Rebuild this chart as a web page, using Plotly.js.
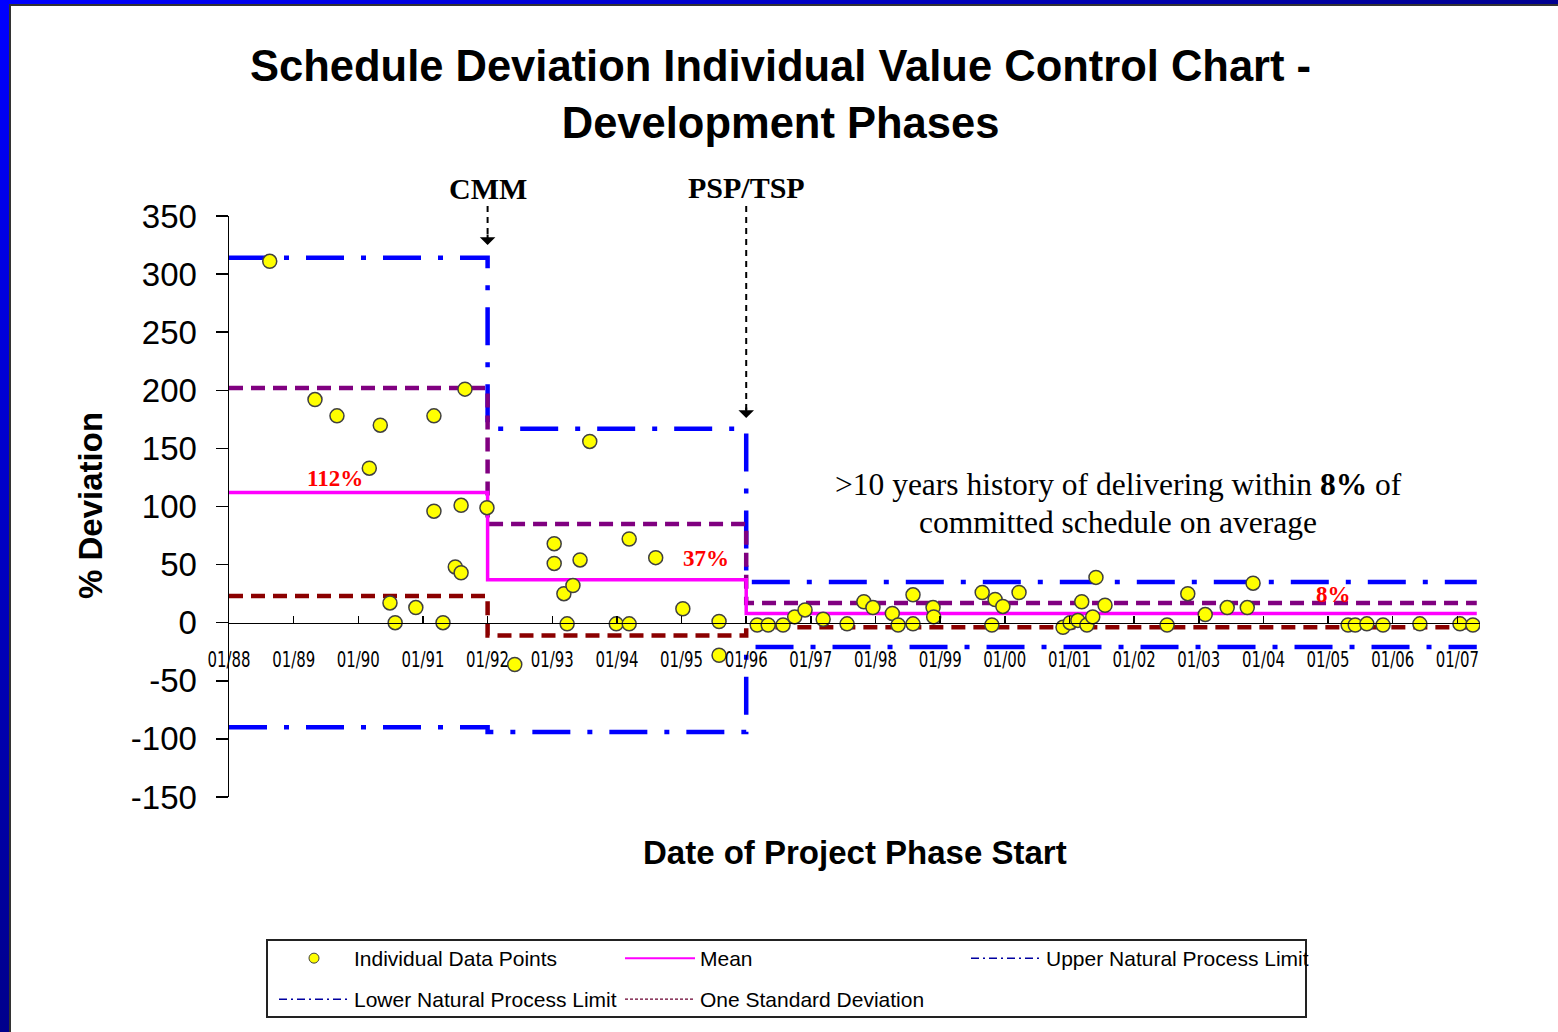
<!DOCTYPE html>
<html><head><meta charset="utf-8">
<script src="https://cdn.plot.ly/plotly-3.0.1.min.js"></script>
<style>
html,body{margin:0;padding:0;background:#fff;}
#wrap{position:relative;width:1558px;height:1032px;overflow:hidden;background:#fff;}
#chart{position:absolute;left:0;top:0;width:1558px;height:1032px;}
.fr{position:absolute;pointer-events:none;}
</style></head><body>
<div id="wrap"><div id="chart"></div>
<div class="fr" style="left:0;top:0;width:9px;height:1032px;background:linear-gradient(#0000ff,#00008c);"></div>
<div class="fr" style="left:0;top:0;width:1558px;height:4px;background:linear-gradient(90deg,#0000ff,#000090);"></div>
<div class="fr" style="left:9px;top:4px;width:1549px;height:1028px;border-left:2px solid #333;border-top:2px solid #333;"></div>
</div>
<script>
// ---------- data ----------
const tickYears = [1988,1989,1990,1991,1992,1993,1994,1995,1996,1997,1998,1999,2000,2001,2002,2003,2004,2005,2006,2007];
const tickLabels = ['01/88','01/89','01/90','01/91','01/92','01/93','01/94','01/95','01/96','01/97','01/98','01/99','01/00','01/01','01/02','01/03','01/04','01/05','01/06','01/07'];
const yTicks = [-150,-100,-50,0,50,100,150,200,250,300,350];
const yTickLabels = ['-150','-100','-50','0','50','100','150','200','250','300','350'];

// phase boundaries (decimal years) and limits per phase
const phaseBounds = [1988, 1992, 1996, 2007.3];
const unplVals   = [314, 167, 35];
const meanVals   = [112, 37, 8];
const sdUpVals   = [202, 85, 17];
const sdLowVals  = [23, -11, -4];
const lnplVals   = [-90, -94, -21];

// individual data points (decimal year of phase start, % deviation)
const pointX = [
 1988.63,1989.33,1989.67,1990.17,1990.34,1990.49,1990.57,1990.89,1991.17,1991.17,1991.31,1991.50,1991.59,1991.59,1991.65,1991.99,
 1992.42,1993.03,1993.03,1993.18,1993.23,1993.32,1993.43,1993.58,1993.99,1994.19,1994.19,1994.60,1995.02,1995.58,1995.58,
 1996.17,1996.34,1996.57,1996.75,1996.91,1997.19,1997.56,1997.82,1997.96,1998.26,1998.35,1998.58,1998.58,1998.89,1998.90,
 1999.65,1999.80,1999.85,1999.97,2000.22,2000.90,2001.01,2001.13,2001.19,2001.27,2001.36,2001.41,2001.55,
 2002.51,2002.83,2003.10,2003.44,2003.75,2003.84,2005.31,2005.42,2005.60,2005.85,2006.42,2007.04,2007.24];
const pointY = [
 311,192,178,133,170,17,0,13,178,96,0,48,43,101,201,99,
 -36,68,51,25,-1,32,54,156,-1,72,-1,56,12,1,-28,
 -2,-2,-2,5,11,3,-1,18,13,8,-2,24,-1,13,5,
 26,-2,20,14,26,-4,0,2,18,-2,5,39,15,
 -2,25,7,13,13,34,-2,-2,-1,-2,-1,-1,-2];

const meanLabels = ['112%','37%','8%'];

// ---------- layout helpers ----------
const yMin = -150, yMax = 350, xMin = 1988, xMax = 2007.35;
const W = 1558, H = 1032;
const plotL = 229, plotR = 1480, plotT = 216, plotB = 797;
const px2x = p => (p - plotL) / (plotR - plotL);
const py2y = p => (plotB - p) / (plotB - plotT);

const SANS = 'Liberation Sans, Arial, sans-serif';
const COND = 'DejaVu Sans Condensed, Liberation Sans Narrow, Liberation Sans, Arial, sans-serif';
const SERIF = 'Liberation Serif, Times New Roman, serif';

function stepTrace(vals, line) {
  return {x: phaseBounds, y: vals.concat([vals[vals.length - 1]]), type: 'scatter', mode: 'lines',
          line: Object.assign({shape: 'hv'}, line), showlegend: false, hoverinfo: 'skip'};
}
const dashDot = '38px,17px,5px,17px';
const traces = [
  stepTrace(unplVals,  {color: '#0000ff', width: 4.5, dash: dashDot}),
  stepTrace(lnplVals,  {color: '#0000ff', width: 4.5, dash: dashDot}),
  stepTrace(sdUpVals,  {color: '#800080', width: 4.5, dash: '14px,8px'}),
  stepTrace(sdLowVals, {color: '#8b0000', width: 4.5, dash: '14px,8px'}),
  stepTrace(meanVals,  {color: '#ff00ff', width: 3.5}),
  {x: pointX, y: pointY, type: 'scatter', mode: 'markers', showlegend: false, hoverinfo: 'skip',
   marker: {color: '#ffff00', size: 14, line: {color: '#404040', width: 1.5}}},
  // legend entries
  {x: [null], y: [null], type: 'scatter', mode: 'markers', name: 'Individual Data Points', legend: 'legend',
   marker: {color: '#ffff00', size: 10, line: {color: '#404040', width: 1}}},
  {x: [null], y: [null], type: 'scatter', mode: 'lines', name: 'Mean', legend: 'legend',
   line: {color: '#ff00ff', width: 2}},
  {x: [null], y: [null], type: 'scatter', mode: 'lines', name: 'Upper Natural Process Limit', legend: 'legend',
   line: {color: '#0000a0', width: 1.5, dash: '8px,4px,2px,4px'}},
  {x: [null], y: [null], type: 'scatter', mode: 'lines', name: 'Lower Natural Process Limit', legend: 'legend2',
   line: {color: '#0000a0', width: 1.5, dash: '8px,4px,2px,4px'}},
  {x: [null], y: [null], type: 'scatter', mode: 'lines', name: 'One Standard Deviation', legend: 'legend2',
   line: {color: '#6a0030', width: 1.2, dash: '3px,2px'}}
];

const legendCommon = {orientation: 'h', xanchor: 'left', yanchor: 'top', bgcolor: 'rgba(0,0,0,0)', borderwidth: 0,
  font: {family: SANS, size: 21, color: '#000'}, itemwidth: 70, entrywidth: 261, entrywidthmode: 'pixels', traceorder: 'normal'};

function ann(o) { return Object.assign({xanchor: 'center', yanchor: 'middle', showarrow: false}, o); }
const annotations = [
  ann({xref: 'paper', yref: 'paper', x: px2x(855), y: py2y(852), text: '<b>Date of Project Phase Start</b>',
   font: {family: SANS, size: 33, color: '#000'}}),
  ann({xref: 'paper', yref: 'paper', x: px2x(90), y: py2y(506), text: '<b>% Deviation</b>', textangle: -90,
   font: {family: SANS, size: 33, color: '#000'}}),
  ann({xref: 'x', yref: 'paper', x: phaseBounds[1], y: py2y(188), text: '<b>CMM</b>',
   font: {family: SERIF, size: 30, color: '#000'}}),
  ann({xref: 'x', yref: 'paper', x: phaseBounds[2], y: py2y(187), text: '<b>PSP/TSP</b>',
   font: {family: SERIF, size: 30, color: '#000'}}),
  {xref: 'x', yref: 'paper', x: phaseBounds[1], y: py2y(245), ax: 0, ay: -12, text: '', showarrow: true,
   arrowhead: 1, arrowsize: 1.3, arrowwidth: 2, arrowcolor: '#000'},
  {xref: 'x', yref: 'paper', x: phaseBounds[2], y: py2y(418), ax: 0, ay: -12, text: '', showarrow: true,
   arrowhead: 1, arrowsize: 1.3, arrowwidth: 2, arrowcolor: '#000'},
  ann({xref: 'paper', yref: 'paper', x: px2x(1118), y: py2y(484),
   text: '&gt;10 years history of delivering within <b>8%</b> of',
   font: {family: SERIF, size: 31.5, color: '#000'}}),
  ann({xref: 'paper', yref: 'paper', x: px2x(1118), y: py2y(522),
   text: 'committed schedule on average',
   font: {family: SERIF, size: 31.5, color: '#000'}}),
  ann({xref: 'paper', yref: 'paper', x: px2x(335), y: py2y(478), text: '<b>' + meanLabels[0] + '</b>',
   font: {family: SERIF, size: 23, color: '#ff0000'}}),
  ann({xref: 'paper', yref: 'paper', x: px2x(706), y: py2y(558), text: '<b>' + meanLabels[1] + '</b>',
   font: {family: SERIF, size: 23, color: '#ff0000'}}),
  ann({xref: 'paper', yref: 'paper', x: px2x(1333), y: py2y(594), text: '<b>' + meanLabels[2] + '</b>',
   font: {family: SERIF, size: 23, color: '#ff0000'}})
];

const shapes = [
  {type: 'line', xref: 'x', yref: 'paper', x0: phaseBounds[1], x1: phaseBounds[1], y0: py2y(206), y1: py2y(236),
   line: {color: '#000', width: 2, dash: '6px,5px'}},
  {type: 'line', xref: 'x', yref: 'paper', x0: phaseBounds[2], x1: phaseBounds[2], y0: py2y(206), y1: py2y(410),
   line: {color: '#000', width: 2, dash: '6px,5px'}},
  {type: 'rect', xref: 'paper', yref: 'paper', x0: px2x(267), x1: px2x(1306), y0: py2y(940), y1: py2y(1017),
   line: {color: '#222', width: 2}, fillcolor: 'rgba(0,0,0,0)'}
];

const layout = {
  width: W, height: H, paper_bgcolor: '#fff', plot_bgcolor: '#fff',
  margin: {l: plotL, r: W - plotR, t: plotT, b: H - plotB, pad: 0, autoexpand: false},
  title: {text: '<b>Schedule Deviation Individual Value Control Chart -<br>Development Phases</b>',
          xref: 'container', x: 0.501, y: 1 - 81 / H, yanchor: 'top',
          font: {family: SANS, size: 43.5, color: '#000'}},
  xaxis: {range: [xMin, xMax], anchor: 'free', position: (0 - yMin) / (yMax - yMin),
          showline: true, linecolor: '#000', linewidth: 1.5, ticks: 'inside', ticklen: 7, tickwidth: 1.5, tickcolor: '#000',
          tickvals: tickYears, ticktext: tickLabels, tickfont: {family: COND, size: 22, color: '#000'},
          ticklabelstandoff: 16, showgrid: false, zeroline: false, automargin: false},
  yaxis: {range: [yMin, yMax], showline: true, linecolor: '#000', linewidth: 1.5, ticks: 'outside', ticklen: 12,
          tickwidth: 1.5, tickcolor: '#000', tickvals: yTicks, ticktext: yTickLabels,
          tickfont: {family: SANS, size: 33, color: '#000'},
          ticklabelstandoff: 12, showgrid: false, zeroline: false, automargin: false},
  legend: Object.assign({}, legendCommon, {x: px2x(274), y: py2y(938)}),
  legend2: Object.assign({}, legendCommon, {x: px2x(274), y: py2y(979)}),
  annotations: annotations, shapes: shapes, showlegend: true, hovermode: false
};

Plotly.newPlot('chart', traces, layout, {staticPlot: true, displayModeBar: false}).then(function () {
  // condense the date tick labels to the narrow look of the original
  document.querySelectorAll('#chart .xtick text').forEach(function (t) {
    t.setAttribute('textLength', '43');
    t.setAttribute('lengthAdjust', 'spacingAndGlyphs');
  });
});
</script>
</body></html>
